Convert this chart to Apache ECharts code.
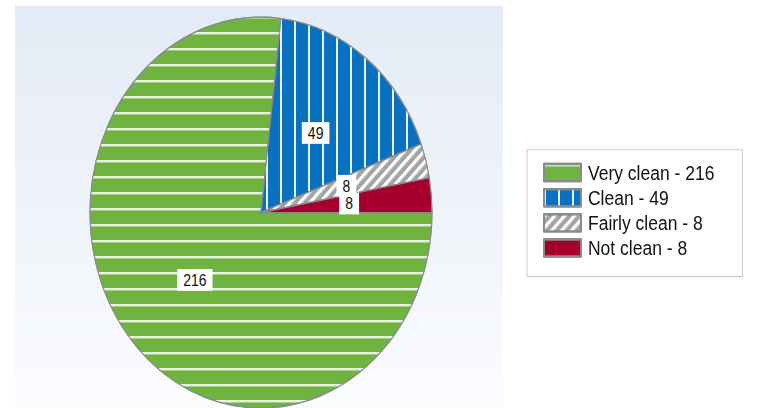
<!DOCTYPE html>
<html><head><meta charset="utf-8">
<script src="https://cdn.jsdelivr.net/npm/echarts@6/dist/echarts.min.js"></script>
<style>
html,body{margin:0;padding:0;width:757px;height:408px;overflow:hidden;background:#fff;}
#stage{position:absolute;left:0;top:0;width:757px;height:357px;transform:scaleY(1.1429);transform-origin:0 0;}
#panel{position:absolute;left:15px;top:5px;width:488px;height:360px;background:linear-gradient(#e4ebf6,#fbfcfe);}
#chart{position:absolute;left:0;top:0;width:757px;height:357px;}
</style></head><body>
<div id="stage"><div id="panel"></div><div id="chart"></div></div>
<script>
const categories = ['Very clean', 'Clean', 'Fairly clean', 'Not clean'];
const values = [216, 49, 8, 8];
const colors = ['#6fb43f', '#0a70c0', '#a4a4a4', '#a6002e'];

const decals = [
  { symbol: 'rect', color: 'rgba(255,255,255,0.85)', dashArrayX: [1, 0], dashArrayY: [1.4, 11.4], rotation: 0 },
  { symbol: 'rect', color: 'rgba(255,255,255,0.9)', dashArrayX: [1.4, 11.6], dashArrayY: [1, 0], rotation: 0 },
  { symbol: 'rect', color: '#ffffff', dashArrayX: [1, 0], dashArrayY: [2.5, 3.5], rotation: -Math.PI / 4 },
  { symbol: 'none', dashArrayX: [1, 0], dashArrayY: [1, 0] }
];

const chart = echarts.init(document.getElementById('chart'), null, { renderer: 'svg' });
chart.setOption({
  animation: false,
  legend: {
    orient: 'vertical',
    left: 527,
    top: 131,
    padding: [11, 28, 16, 16],
    itemGap: 4,
    itemWidth: 37,
    itemHeight: 15,
    icon: 'rect',
    backgroundColor: '#ffffff',
    borderColor: '#cccccc',
    borderWidth: 1,
    borderRadius: 0,
    selectedMode: false,
    textStyle: { fontFamily: 'Liberation Sans, Arial, sans-serif', fontSize: 17.5, lineHeight: 16, color: '#111111', padding: [0, 0, 0, 2] },
    formatter: function (name) { return name + ' - ' + values[categories.indexOf(name)]; },
    data: categories
  },
  series: [{
    type: 'pie',
    center: [261, 186],
    radius: 171,
    startAngle: 0,
    clockwise: true,
    silent: true,
    avoidLabelOverlap: false,
    labelLayout: { hideOverlap: false },
    itemStyle: { borderColor: '#8a8a8a', borderWidth: 1 },
    label: {
      show: true,
      position: 'inside',
      formatter: '{c}',
      fontFamily: 'Liberation Sans, Arial, sans-serif',
      fontSize: 14,
      lineHeight: 14,
      color: '#111111',
      backgroundColor: '#ffffff',
      padding: [3, 6, 2, 6]
    },
    labelLine: { show: false },
    data: categories.map(function (c, i) {
      return { name: c, value: values[i], itemStyle: { color: colors[i], decal: decals[i] } };
    })
  }]
});
</script>
</body></html>
